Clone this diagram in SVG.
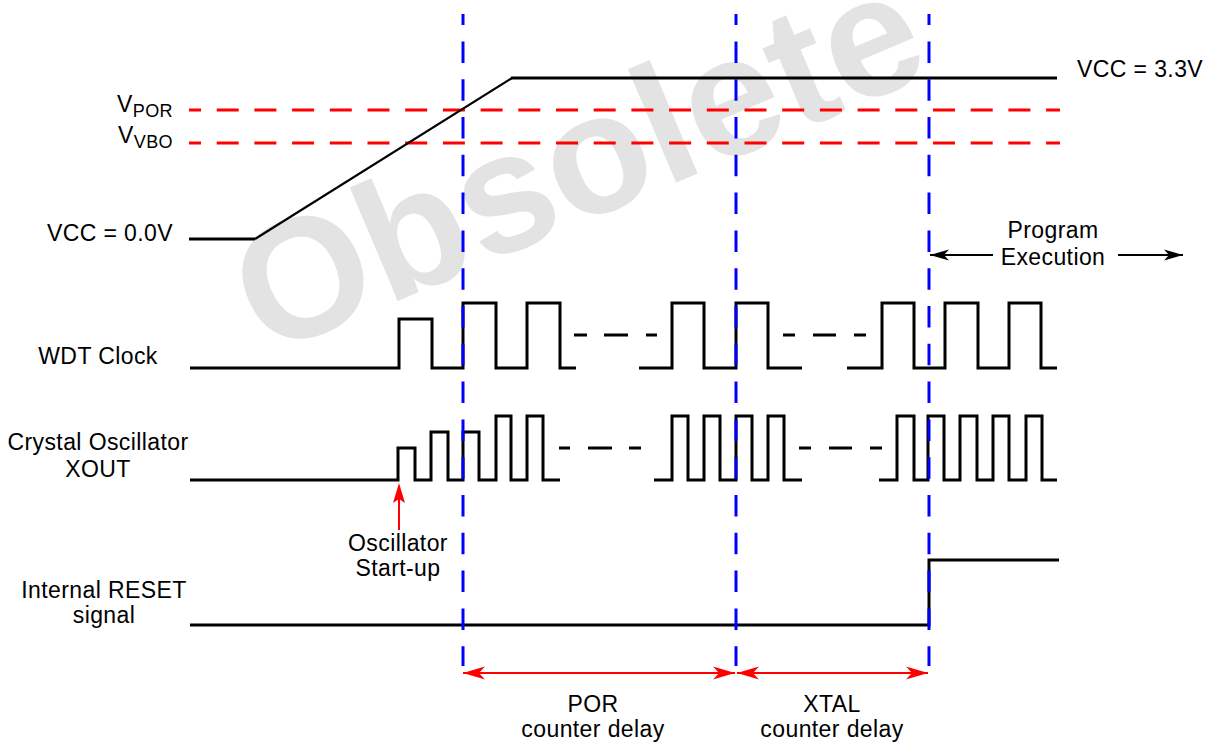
<svg xmlns="http://www.w3.org/2000/svg" width="1209" height="745" viewBox="0 0 1209 745">
<defs>
<style>
.t{font-family:"Liberation Sans",Arial,sans-serif;font-size:23px;fill:#000;letter-spacing:0.4px}
.m{text-anchor:middle}
.e{text-anchor:end}
.w{fill:none;stroke:#000;stroke-width:3;stroke-linejoin:miter;stroke-linecap:butt}
.thr{fill:none;stroke:#ff0000;stroke-width:3;stroke-dasharray:22 15.7;stroke-dashoffset:10}
.mk{fill:none;stroke:#0000ff;stroke-width:3;stroke-dasharray:21.5 16.3;stroke-dashoffset:10.4}
.ra{fill:none;stroke:#ff0000;stroke-width:2;marker-start:url(#rh);marker-end:url(#rh)}
.ba{fill:none;stroke:#000;stroke-width:2;marker-end:url(#bh)}
</style>
<marker id="rh" viewBox="-23 -8 24 16" refX="0" refY="0" markerWidth="24" markerHeight="16" markerUnits="userSpaceOnUse" orient="auto-start-reverse">
<path d="M0,0 L-22,-6.5 L-16,0 L-22,6.5 Z" fill="#ff0000"/>
</marker>
<marker id="bh" viewBox="-20 -7 21 14" refX="0" refY="0" markerWidth="21" markerHeight="14" markerUnits="userSpaceOnUse" orient="auto">
<path d="M0,0 L-19,-5.5 L-14,0 L-19,5.5 Z" fill="#000"/>
</marker>
</defs>
<rect width="1209" height="745" fill="#fff"/>
<g id="watermark">
<text transform="translate(600,215) rotate(-23)" x="0" y="0" text-anchor="middle" font-family="'Liberation Sans',Arial,sans-serif" font-weight="bold" font-size="170" fill="#e3e3e3">Obsolete</text>
</g>
<g id="thresholds">
<line class="thr" x1="189" y1="110" x2="1060" y2="110"/>
<line class="thr" x1="189" y1="143" x2="1060" y2="143"/>
</g>
<g id="vcc">
<path class="w" d="M189,239 H255"/>
<path d="M255,239 L512,78" fill="none" stroke="#000" stroke-width="2.2"/>
<path class="w" d="M511,78 H1057"/>
<text class="t" x="1077" y="77">VCC = 3.3V</text>
<text class="t e" x="173" y="241">VCC = 0.0V</text>
<text class="t e" x="173" y="112">V<tspan dy="5" font-size="18">POR</tspan></text>
<text class="t e" x="173" y="143">V<tspan dy="5" font-size="18">VBO</tspan></text>
</g>
<g id="wdt-clock">
<path class="w" d="M190,368 H399 V319 H432 V368 H463 V303 H496 V368 H527 V303 H560 V368 H576 M639,368 H672 V303 H704 V368 H736 V303 H768 V368 H802 M847,368 H882 V303 H914 V368 H945 V303 H978 V368 H1009 V303 H1041 V368 H1057"/>
<path class="w" d="M574,335 H587 M604,335 H628 M646,335 H657 M783,335 H795 M813,335 H836 M854,335 H866"/>
<text class="t m" x="98" y="364">WDT Clock</text>
</g>
<g id="xout">
<path class="w" d="M190,480 H398 V448 H415 V480 H431 V432 H448 V480 H463 V432 H479 V480 H496 V416 H511 V480 H527 V416 H543 V480 H560 M654,480 H672 V416 H688 V480 H704 V416 H720 V480 H736 V416 H752 V480 H768 V416 H784 V480 H802 M879,480 H897 V416 H914 V480 H928 V416 H944 V480 H960 V416 H977 V480 H993 V416 H1009 V480 H1026 V416 H1042 V480 H1057"/>
<path class="w" d="M559,448 H570 M588,448 H612 M629,448 H641 M799,448 H811 M829,448 H852 M870,448 H882"/>
<text class="t m" x="98" y="450">Crystal Oscillator</text>
<text class="t m" x="98" y="477">XOUT</text>
</g>
<g id="reset">
<path class="w" d="M190,625 H929 V560 H1059"/>
<text class="t m" x="104" y="598">Internal RESET</text>
<text class="t m" x="104" y="623">signal</text>
</g>
<g id="osc-startup">
<text class="t m" x="398" y="551">Oscillator</text>
<text class="t m" x="398" y="576">Start-up</text>
</g>
<g id="por-delay">
<text class="t m" x="593" y="712">POR</text>
<text class="t m" x="593" y="737">counter delay</text>
</g>
<g id="xtal-delay">
<text class="t m" x="832" y="712">XTAL</text>
<text class="t m" x="832" y="737">counter delay</text>
</g>
<g id="program-execution">
<text class="t m" x="1053" y="238">Program</text>
<text class="t m" x="1053" y="265">Execution</text>
</g>
<g id="markers">
<line class="mk" x1="463" y1="14" x2="463" y2="666"/>
<line class="mk" x1="736" y1="14" x2="736" y2="666"/>
<line class="mk" x1="929" y1="14" x2="929" y2="666"/>
</g>
<g id="connectors">
<line class="ra" x1="463" y1="673" x2="735" y2="673"/>
<line class="ra" x1="737" y1="673" x2="928" y2="673"/>
<line class="ba" x1="993" y1="255" x2="930" y2="255"/>
<line class="ba" x1="1118" y1="255" x2="1183" y2="255"/>
<line x1="399" y1="530" x2="399" y2="495" stroke="#ff0000" stroke-width="2"/>
<path d="M399,483 L393,503 L399,499 L405,503 Z" fill="#ff0000"/>
</g>
</svg>
